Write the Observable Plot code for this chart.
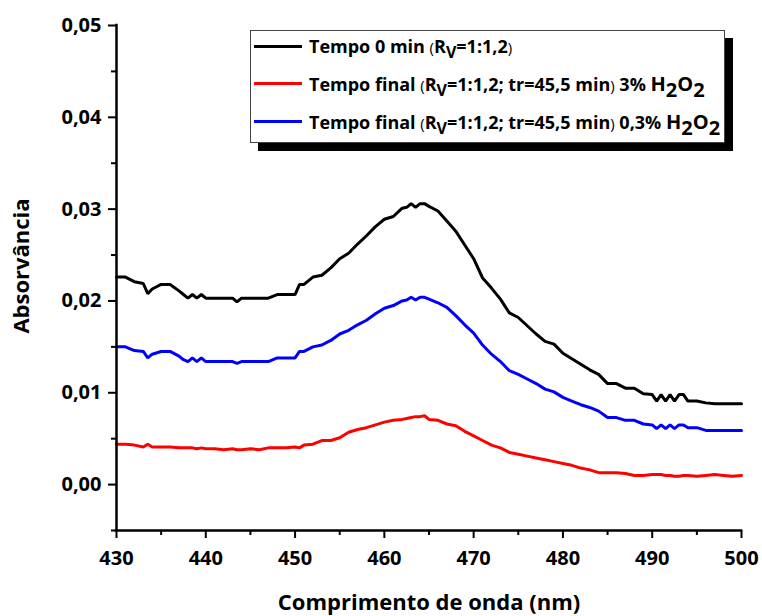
<!DOCTYPE html>
<html>
<head>
<meta charset="utf-8">
<script src="https://cdn.jsdelivr.net/npm/d3@7"></script>
<script src="https://cdn.jsdelivr.net/npm/@observablehq/plot@0.6"></script>
<style>
  html, body { margin: 0; padding: 0; background: #fff; }
  #wrap { position: relative; width: 762px; height: 616px; font-family: "Open Sans", Lato, sans-serif; }
  #legend { position: absolute; left: 250px; top: 30px; width: 473px; height: 111px; border: 1px solid #444; background: #fff; box-shadow: 8px 8px 0 #000; }
  .row { position: absolute; left: 0; height: 30px; display: flex; align-items: center; white-space: nowrap; font-weight: bold; font-size: 18px; color: #000; }
  .swatch { display: inline-block; width: 48px; height: 3px; margin-left: 3px; margin-right: 7px; }
  .p { font-weight: normal; font-size: 15px; }
  sub { font-size: 16px; vertical-align: -5px; line-height: 0; }
  .h { font-size: 20px; }
  .h sub { font-size: 20px; vertical-align: -6px; }
</style>
</head>
<body>
<div id="wrap">
  <div id="chart"></div>
  <div id="legend"></div>
</div>
<script>
const wavelengths = [
  430,431,432,433,433.5,434,435,436,437,437.5,
  438,438.5,439,439.5,440,441,442,443,443.5,444,
  445,446,447,448,449,450,450.5,451,452,453,
  454,455,456,457,458,459,460,461,462,462.5,
  463,463.5,464,464.5,465,466,467,468,469,470,
  471,472,473,474,475,476,477,478,479,480,
  481,482,483,484,485,486,487,488,489,490,
  490.5,491,491.5,492,492.5,493,493.5,494,495,496,
  497,498,499,500
];
const absTempo0 = [
  0.0226,0.0226,0.0221,0.0219,0.0208,0.0213,0.0218,0.0218,0.0211,0.0207,
  0.0203,0.0207,0.0203,0.0207,0.0203,0.0203,0.0203,0.0203,0.0199,0.0203,
  0.0203,0.0203,0.0203,0.0207,0.0207,0.0207,0.0218,0.0218,0.0226,0.0228,
  0.0236,0.0246,0.0252,0.0262,0.0271,0.0281,0.0289,0.0292,0.0301,0.0302,
  0.0306,0.0302,0.0306,0.0306,0.0303,0.0298,0.0287,0.0276,0.0261,0.0246,
  0.0225,0.0214,0.0202,0.0187,0.0182,0.0173,0.0164,0.0156,0.0153,0.0143,
  0.0137,0.0131,0.0125,0.0120,0.0110,0.0110,0.0105,0.0105,0.0099,0.0098,
  0.0091,0.0098,0.0091,0.0098,0.0091,0.0098,0.0098,0.0091,0.0091,0.0089,
  0.0088,0.0088,0.0088,0.0088
];
const absFinal3 = [
  0.0044,0.0044,0.0043,0.0041,0.0044,0.0041,0.0041,0.0041,0.0040,0.0040,
  0.0040,0.0040,0.0039,0.0040,0.0039,0.0039,0.0038,0.0039,0.0038,0.0038,
  0.0039,0.0038,0.0040,0.0040,0.0040,0.0041,0.0040,0.0043,0.0044,0.0048,
  0.0048,0.0051,0.0057,0.0060,0.0062,0.0065,0.0068,0.0070,0.0071,0.0072,
  0.0073,0.0074,0.0074,0.0075,0.0071,0.0070,0.0066,0.0064,0.0058,0.0053,
  0.0048,0.0043,0.0040,0.0035,0.0033,0.0031,0.0029,0.0027,0.0025,0.0023,
  0.0021,0.0018,0.0016,0.0013,0.0013,0.0013,0.0012,0.0010,0.0010,0.0011,
  0.0011,0.0011,0.0010,0.0010,0.0009,0.0009,0.0010,0.0010,0.0009,0.0010,
  0.0011,0.0010,0.0009,0.0010
];
const absFinal03 = [
  0.0150,0.0150,0.0146,0.0145,0.0138,0.0142,0.0145,0.0145,0.0140,0.0136,
  0.0134,0.0138,0.0134,0.0138,0.0134,0.0134,0.0134,0.0134,0.0132,0.0134,
  0.0134,0.0134,0.0134,0.0138,0.0138,0.0138,0.0145,0.0145,0.0150,0.0152,
  0.0157,0.0164,0.0168,0.0174,0.0179,0.0186,0.0192,0.0195,0.0200,0.0201,
  0.0204,0.0201,0.0204,0.0204,0.0202,0.0198,0.0193,0.0184,0.0174,0.0165,
  0.0152,0.0142,0.0134,0.0124,0.0120,0.0115,0.0110,0.0104,0.0101,0.0095,
  0.0091,0.0087,0.0084,0.0080,0.0073,0.0073,0.0070,0.0070,0.0066,0.0065,
  0.0061,0.0065,0.0061,0.0065,0.0061,0.0065,0.0065,0.0062,0.0062,0.0059,
  0.0059,0.0059,0.0059,0.0059
];
const xMajor = [430, 440, 450, 460, 470, 480, 490, 500];
const xMinor = [435, 445, 455, 465, 475, 485, 495];
const yMajor = [0, 0.01, 0.02, 0.03, 0.04, 0.05];
const yMinor = [-0.005, 0.005, 0.015, 0.025, 0.035, 0.045];
const xTitle = "Comprimento de onda (nm)";
const yTitle = "Absorvância";
const seriesColors = ["#000000", "#ff0000", "#0000ff"];
const legendHTML = [
  'Tempo 0 min <span class="p">(</span>R<sub>V</sub>=1:1,2<span class="p">)</span>',
  'Tempo final <span class="p">(</span>R<sub>V</sub>=1:1,2; tr=45,5 min<span class="p">)</span>&nbsp;3% <span class="h">H<sub>2</sub>O<sub>2</sub></span>',
  'Tempo final <span class="p">(</span>R<sub>V</sub>=1:1,2; tr=45,5 min<span class="p">)</span>&nbsp;0,3% <span class="h">H<sub>2</sub>O<sub>2</sub></span>'
];

const fmt = d => d.toFixed(2).replace(".", ",");
const chart = Plot.plot({
  width: 762,
  height: 616,
  marginLeft: 116,
  marginRight: 21,
  marginTop: 25,
  marginBottom: 86,
  style: { fontFamily: "'Open Sans', Lato, sans-serif", fontWeight: "bold", fontSize: "20px", color: "#000", background: "#fff", overflow: "visible" },
  x: { domain: [430, 500] },
  y: { domain: [-0.005, 0.05] },
  marks: [
    Plot.line(wavelengths, { x: d => d, y: absTempo0, stroke: seriesColors[0], strokeWidth: 3, strokeLinejoin: "miter" }),
    Plot.line(wavelengths, { x: d => d, y: absFinal3, stroke: seriesColors[1], strokeWidth: 3, strokeLinejoin: "miter" }),
    Plot.line(wavelengths, { x: d => d, y: absFinal03, stroke: seriesColors[2], strokeWidth: 3, strokeLinejoin: "miter" }),
    Plot.ruleX([430], { strokeWidth: 2.5, strokeLinecap: "square" }),
    Plot.ruleY([-0.005], { strokeWidth: 2.5, strokeLinecap: "square" }),
    Plot.axisY(yMajor, { tickSize: 8, tickPadding: 7, tickFormat: fmt, strokeWidth: 2, label: null, fontSize: 20, fontWeight: "bold" }),
    Plot.axisY(yMinor, { tickSize: 5, tickFormat: () => "", strokeWidth: 2, label: null }),
    Plot.axisX(xMajor, { tickSize: 8, tickPadding: 12, tickFormat: d => String(d), strokeWidth: 2, label: null, fontSize: 20, fontWeight: "bold" }),
    Plot.axisX(xMinor, { tickSize: 5, tickFormat: () => "", strokeWidth: 2, label: null }),
    Plot.text([yTitle], { frameAnchor: "left", textAnchor: "middle", dx: -95, dy: -12, rotate: -90, fontSize: 22, fontWeight: "bold" }),
    Plot.text([xTitle], { frameAnchor: "bottom", dy: 79, fontSize: 22, fontWeight: "bold" })
  ]
});
document.getElementById("chart").appendChild(chart);

const legend = document.getElementById("legend");
const rowTops = [0, 37, 75];
legendHTML.forEach((html, i) => {
  const row = document.createElement("div");
  row.className = "row";
  row.style.top = rowTops[i] + "px";
  row.innerHTML = '<span class="swatch" style="background:' + seriesColors[i] + '"></span><span>' + html + '</span>';
  legend.appendChild(row);
});
</script>
</body>
</html>
